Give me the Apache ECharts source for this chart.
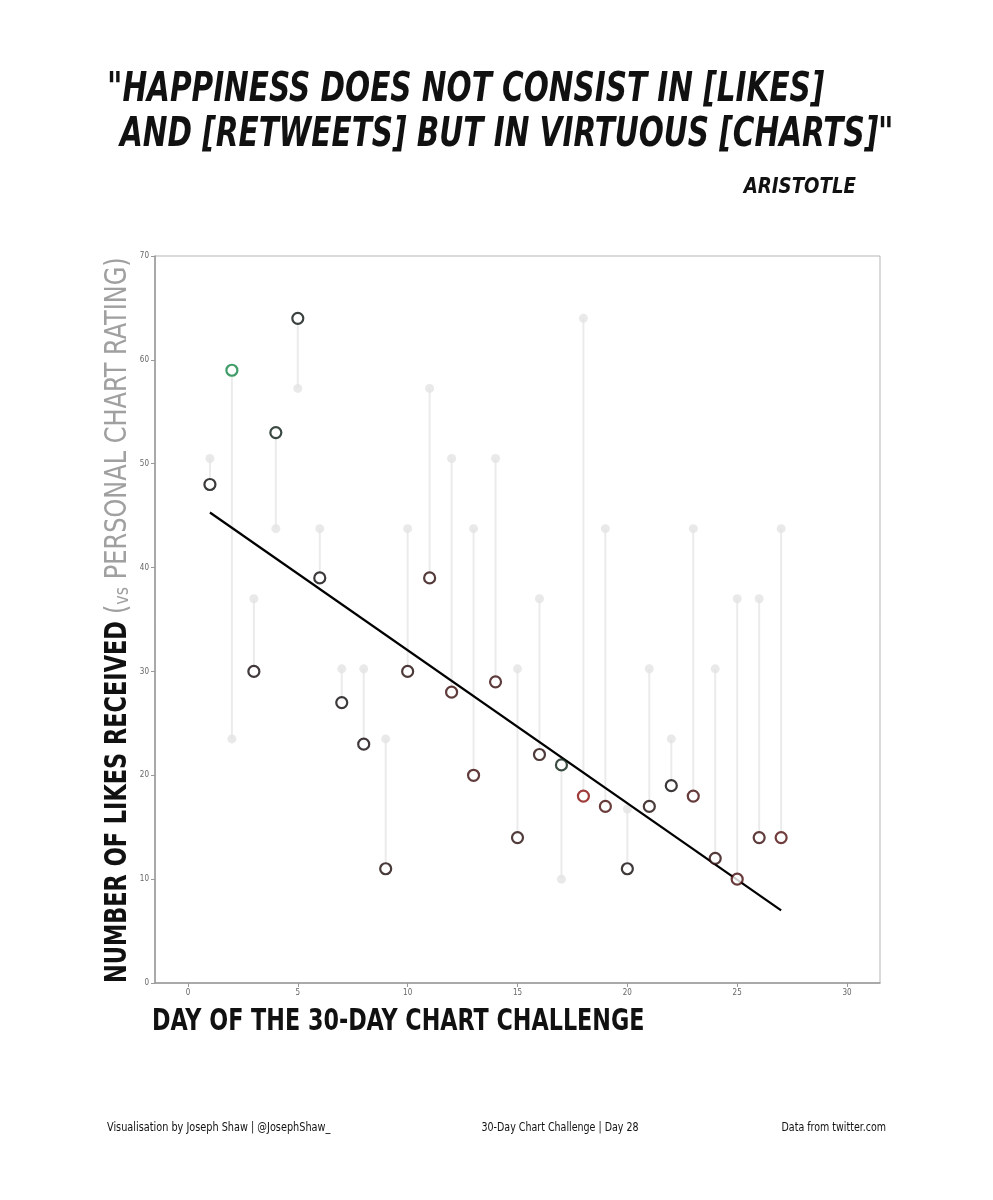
<!DOCTYPE html>
<html>
<head>
<meta charset="utf-8">
<script src="https://cdn.jsdelivr.net/npm/echarts@6/dist/echarts.min.js"></script>
<style>
html,body{margin:0;padding:0;background:#fff;}
#chart{width:993px;height:1200px;}
</style>
</head>
<body>
<div id="chart"></div>
<script>
const days = [1,2,3,4,5,6,7,8,9,10,11,12,13,14,15,16,17,18,19,20,21,22,23,24,25,26,27];
const likes = [48,59,30,53,64,39,27,23,11,30,39,28,20,29,14,22,21,18,17,11,17,19,18,12,10,14,14];
const ratings = [50.5,23.5,37,43.75,57.25,43.75,30.25,30.25,23.5,43.75,57.25,50.5,43.75,50.5,30.25,37,10,64,43.75,16.75,30.25,23.5,43.75,30.25,37,37,43.75];
const trendDays = [1, 27];
const trendLikes = [45.3, 7.0];
const xTicks = [0,5,10,15,20,25,30];

const FONT = '"DejaVu Sans Condensed","DejaVu Sans",sans-serif';

function mix(c1, c2, t) {
  const a = [parseInt(c1.slice(1,3),16),parseInt(c1.slice(3,5),16),parseInt(c1.slice(5,7),16)];
  const b = [parseInt(c2.slice(1,3),16),parseInt(c2.slice(3,5),16),parseInt(c2.slice(5,7),16)];
  return 'rgb(' + a.map((v,i)=>Math.round(v+(b[i]-v)*t)).join(',') + ')';
}
function diffColor(d) {
  if (d >= 0) return mix('#080808', '#108443', Math.pow(Math.min(d/35.5, 1), 1.4));
  return mix('#080808', '#870d0d', Math.pow(Math.min(-d/46, 1), 1.4));
}

const likePts = days.map((d,i)=>({value:[d, likes[i]], itemStyle:{borderColor: diffColor(likes[i]-ratings[i])}}));
const ratingPts = days.map((d,i)=>[d, ratings[i]]);
const stemData = days.map((d,i)=>[d, ratings[i], likes[i]]);

const chart = echarts.init(document.getElementById('chart'), null, {renderer:'canvas'});
chart.setOption({
  backgroundColor:'#fff',
  animation:false,
  grid:{left:155, top:256, right:113, bottom:217, show:true, borderColor:'#b5b5b5', borderWidth:1},
  xAxis:{
    type:'value', min:-1.5, max:31.5,
    splitLine:{show:false},
    axisLine:{onZero:false, lineStyle:{color:'#999', width:1.5}},
    axisTick:{show:true, length:4, lineStyle:{color:'#999'}, customValues:xTicks},
    axisLabel:{customValues:xTicks, color:'#666', fontSize:8, fontFamily:FONT, margin:6}
  },
  yAxis:{
    type:'value', min:0, max:70, interval:10,
    splitLine:{show:false},
    axisLine:{show:true, onZero:false, lineStyle:{color:'#999', width:1.5}},
    axisTick:{show:true, length:4, lineStyle:{color:'#999'}},
    axisLabel:{color:'#666', fontSize:8, fontFamily:FONT, margin:6}
  },
  series:[
    {
      type:'custom', z:1,
      data: stemData,
      renderItem:function(params, api){
        const p1 = api.coord([api.value(0), api.value(1)]);
        const p2 = api.coord([api.value(0), api.value(2)]);
        return {type:'line', shape:{x1:p1[0],y1:p1[1],x2:p2[0],y2:p2[1]}, style:{stroke:'#ebebeb', lineWidth:2}};
      },
      encode:{x:0, y:[1,2]}
    },
    {
      type:'scatter', z:2, data: ratingPts, symbolSize:9,
      itemStyle:{color:'#e4e4e4'}
    },
    {
      type:'line', z:3, data: trendDays.map((d,i)=>[d, trendLikes[i]]),
      symbol:'none', lineStyle:{color:'#000', width:2.2}
    },
    {
      type:'scatter', z:4, data: likePts, symbolSize:11,
      itemStyle:{color:'#fff', borderWidth:2.2}
    }
  ],
  graphic:[
    {type:'text', x:107, y:71, scaleX:0.82, style:{text:'"HAPPINESS DOES NOT CONSIST IN [LIKES]', fill:'#111', font:'italic bold 40px '+FONT, align:'left', verticalAlign:'top'}},
    {type:'text', x:120, y:116, scaleX:0.82, style:{text:'AND [RETWEETS] BUT IN VIRTUOUS [CHARTS]"', fill:'#111', font:'italic bold 40px '+FONT, align:'left', verticalAlign:'top'}},
    {type:'text', x:856, y:176, scaleX:0.92, style:{text:'ARISTOTLE', fill:'#111', font:'italic bold 22px '+FONT, align:'right', verticalAlign:'top'}},
    {type:'text', x:118, y:983, rotation:Math.PI/2, scaleX:0.83,
      style:{text:'NUMBER OF LIKES RECEIVED', fill:'#111', font:'bold 30px '+FONT, align:'left', verticalAlign:'middle'}},
    {type:'text', x:118, y:614, rotation:Math.PI/2, scaleX:0.89,
      style:{
        text:'{b|(}{c|vs}{b| PERSONAL CHART RATING)}',
        align:'left', verticalAlign:'middle',
        rich:{
          b:{fontFamily:FONT, fontSize:30, fill:'#a0a0a0', verticalAlign:'bottom'},
          c:{fontFamily:FONT, fontSize:20, fill:'#a0a0a0', verticalAlign:'bottom'}
        }
      }
    },
    {type:'text', x:152, y:1007, scaleX:0.825, style:{text:'DAY OF THE 30-DAY CHART CHALLENGE', fill:'#111', font:'bold 30px '+FONT, align:'left', verticalAlign:'top'}},
    {type:'text', x:107, y:1128, scaleX:0.9, style:{text:'Visualisation by Joseph Shaw | @JosephShaw_', fill:'#111', font:'12px '+FONT, align:'left', verticalAlign:'middle'}},
    {type:'text', x:560, y:1128, scaleX:0.88, style:{text:'30-Day Chart Challenge | Day 28', fill:'#111', font:'12px '+FONT, align:'center', verticalAlign:'middle'}},
    {type:'text', x:886, y:1128, scaleX:0.88, style:{text:'Data from twitter.com', fill:'#111', font:'12px '+FONT, align:'right', verticalAlign:'middle'}}
  ]
});
</script>
</body>
</html>
